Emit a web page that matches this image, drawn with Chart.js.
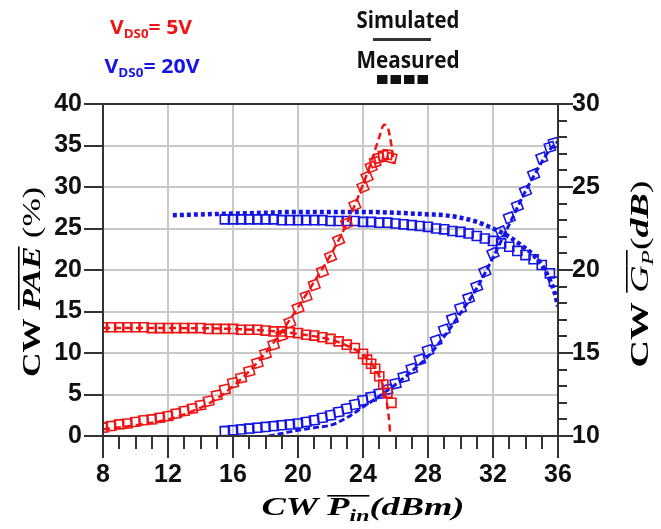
<!DOCTYPE html>
<html>
<head>
<meta charset="utf-8">
<script src="https://cdn.jsdelivr.net/npm/chart.js@4.4.1/dist/chart.umd.min.js"></script>
<style>
  html, body { margin: 0; padding: 0; background: #fff; }
  canvas { display: block; }
</style>
</head>
<body>
<canvas id="chart" width="661" height="529"></canvas>
<script>
// measured points (squares)
var redX = [8, 8.5, 9, 9.5, 10, 10.5, 11, 11.5, 12, 12.5, 13, 13.5, 14, 14.5, 15, 15.5, 16, 16.5, 17, 17.5,
            18, 18.5, 19, 19.5, 20, 20.5, 21, 21.5, 22, 22.5, 23, 23.5, 24, 24.25, 24.5, 24.75, 25, 25.25, 25.5, 25.75];
var redPaeMeas = [1.0, 1.2, 1.4, 1.5, 1.7, 1.9, 2.0, 2.2, 2.4, 2.7, 3.0, 3.3, 3.7, 4.2, 4.9, 5.6, 6.4, 7.0, 7.8, 8.8,
                  9.9, 11.0, 12.1, 13.7, 15.4, 16.8, 18.2, 19.8, 21.6, 23.6, 25.6, 27.8, 30.0, 31.2, 32.4, 33.0, 33.5, 33.8, 33.9, 33.5];
var redGainMeas = [16.55, 16.55, 16.55, 16.55, 16.55, 16.55, 16.5, 16.5, 16.5, 16.5, 16.5, 16.5, 16.5, 16.45, 16.45, 16.45, 16.45, 16.4, 16.4, 16.4,
                   16.35, 16.3, 16.3, 16.25, 16.2, 16.1, 16.05, 15.95, 15.85, 15.7, 15.5, 15.3, 14.95, 14.6, 14.35, 14.05, 13.6, 13.1, 12.6, 12.0];

var blueX = [15.5, 16, 16.5, 17, 17.5, 18, 18.5, 19, 19.5, 20, 20.5, 21, 21.5, 22, 22.5, 23, 23.5, 24, 24.5, 25, 25.5,
             26, 26.5, 27, 27.5, 28, 28.5, 29, 29.5, 30, 30.5, 31, 31.5, 32, 32.5, 33, 33.5, 34, 34.5, 35, 35.5, 35.75];
var bluePaeMeas = [0.6, 0.7, 0.8, 0.9, 1.0, 1.1, 1.2, 1.3, 1.4, 1.5, 1.7, 1.9, 2.2, 2.5, 2.9, 3.3, 3.8, 4.3, 4.7, 5.1, 5.6,
                   6.3, 7.1, 8.1, 9.2, 10.3, 11.5, 12.8, 14.1, 15.4, 16.6, 18.0, 19.8, 22.0, 24.6, 26.3, 27.7, 29.5, 31.5, 33.5, 34.8, 35.3];
var blueGainMeas = [23.05, 23.05, 23.05, 23.05, 23.05, 23.05, 23.05, 23.0, 23.0, 23.0, 23.0, 23.0, 23.0, 22.95, 22.95, 22.95, 22.95, 22.9, 22.9, 22.85, 22.85,
                    22.8, 22.75, 22.7, 22.65, 22.6, 22.5, 22.45, 22.35, 22.3, 22.2, 22.05, 21.9, 21.75, 21.6, 21.4, 21.15, 20.9, 20.65, 20.3, 19.8, 19.3];

// simulated curves (dashed)
var redPaeSimX = [8, 10, 12, 14, 15, 16, 17, 18, 19, 20, 21, 22, 23, 24, 24.5, 25, 25.3, 25.55, 25.75, 25.9];
var redPaeSimY = [0.8, 1.3, 2.0, 3.4, 4.5, 6.0, 7.8, 10.0, 12.6, 15.5, 18.6, 21.8, 25.6, 30.3, 33.0, 36.0, 37.5, 37.0, 35.0, 32.8];
var redGainSimX = [8, 12, 16, 18, 20, 22, 23, 24, 24.5, 25, 25.3, 25.5, 25.62, 25.68];
var redGainSimY = [16.5, 16.5, 16.45, 16.35, 16.15, 15.8, 15.45, 14.9, 14.4, 13.6, 12.8, 11.8, 10.8, 10.0];
var bluePaeSimX = [18.2, 19, 20, 21, 22, 23, 24, 25, 26, 27, 28, 29, 30, 31, 32, 33, 34, 35, 35.5, 36];
var bluePaeSimY = [0, 0.3, 0.7, 1.0, 1.3, 2.2, 3.5, 4.8, 6.2, 7.8, 9.6, 12.0, 14.8, 17.8, 21.5, 25.5, 29.5, 33.0, 34.5, 35.5];
var blueGainSimX = [12.3, 14, 16, 18, 20, 22, 24, 26, 28, 29, 30, 31, 32, 33, 34, 34.5, 35, 35.5, 35.8, 36];
var blueGainSimY = [23.3, 23.35, 23.4, 23.45, 23.5, 23.5, 23.5, 23.45, 23.35, 23.3, 23.15, 22.9, 22.5, 22.0, 21.3, 20.9, 20.3, 19.4, 18.6, 17.8];

var xTicks = [8, 12, 16, 20, 24, 28, 32, 36];

var RED = '#f01414';
var BLUE = '#1414e6';

function pts(xs, ys) {
  return xs.map(function (x, i) { return { x: x, y: ys[i] }; });
}

// squares turn a little along steep parts of the curve
function tilt(ctx) {
  var d = ctx.dataset.data, i = ctx.dataIndex;
  var sx = ctx.chart.scales.x, sy = ctx.chart.scales[ctx.dataset.yAxisID];
  if (!sx || !sy || !d[i]) return 0;
  var a = d[Math.max(i - 1, 0)], b = d[Math.min(i + 1, d.length - 1)];
  var dx = sx.getPixelForValue(b.x) - sx.getPixelForValue(a.x);
  var dy = sy.getPixelForValue(b.y) - sy.getPixelForValue(a.y);
  return Math.atan2(dy, dx) * 180 / Math.PI * 0.35;
}

function simLine(data, color, dash, width, axis) {
  return {
    data: data, yAxisID: axis, showLine: true, pointRadius: 0,
    borderColor: color, borderWidth: width, borderDash: dash, borderCapStyle: 'butt',
    cubicInterpolationMode: 'monotone', fill: false
  };
}

function measPts(data, color, axis, rot) {
  return {
    data: data, yAxisID: axis, showLine: false,
    pointStyle: 'rect', pointRadius: 6.4, pointBorderWidth: 1.6,
    pointBorderColor: color, pointBackgroundColor: 'rgba(0,0,0,0)',
    pointRotation: rot ? tilt : 0
  };
}

// text pieces drawn one after another, optionally stretched and rotated
function drawRuns(ctx, parts, cx, cy, angle, target) {
  ctx.save();
  ctx.translate(cx, cy);
  ctx.rotate(angle);
  var w = 0;
  parts.forEach(function (p) { ctx.font = p.f; p.w = ctx.measureText(p.t).width; w += p.w; });
  var k = target ? target / w : 1;
  ctx.scale(k, 1);
  var x = -w / 2;
  ctx.textBaseline = 'alphabetic';
  ctx.textAlign = 'left';
  parts.forEach(function (p) {
    ctx.font = p.f;
    ctx.fillStyle = p.c || '#000';
    ctx.fillText(p.t, x, p.dy || 0);
    if (p.over) {
      ctx.fillRect(x, -p.over, p.w, 1.6);
    }
    x += p.w;
  });
  ctx.restore();
}

var deco = {
  id: 'deco',
  afterDraw: function (chart) {
    var ctx = chart.ctx, a = chart.chartArea;
    var sx = chart.scales.x, sy = chart.scales.y, sy2 = chart.scales.y2;
    ctx.save();
    ctx.strokeStyle = '#333';
    ctx.lineWidth = 2;
    ctx.strokeRect(a.left, a.top, a.right - a.left, a.bottom - a.top);
    ctx.beginPath();
    for (var v = 8; v <= 36; v++) {
      var px = Math.round(sx.getPixelForValue(v));
      ctx.moveTo(px, a.bottom);
      ctx.lineTo(px, a.bottom + (v % 4 === 0 ? 22 : 13));
    }
    for (var p = 0; p <= 40; p += 5) {
      var py = Math.round(sy.getPixelForValue(p));
      ctx.moveTo(a.left - 19, py);
      ctx.lineTo(a.left, py);
    }
    for (var g = 10; g <= 30; g++) {
      var gy = Math.round(sy2.getPixelForValue(g));
      ctx.moveTo(a.right, gy);
      ctx.lineTo(a.right + (g % 5 === 0 ? 15 : 9), gy);
    }
    ctx.stroke();

    // axis titles
    var serif = '"Liberation Serif"';
    drawRuns(ctx, [
      { t: 'CW ', f: 'bold 26px ' + serif },
      { t: 'PAE', f: 'italic bold 26px ' + serif, over: 22 },
      { t: ' (%)', f: '26px ' + serif }
    ], 40, 282, -Math.PI / 2, 190);
    drawRuns(ctx, [
      { t: 'CW ', f: 'bold 26px ' + serif },
      { t: 'G', f: 'italic 26px ' + serif, over: 22 },
      { t: 'P', f: 'italic 17px ' + serif, dy: 5, over: 22 },
      { t: '(', f: '26px ' + serif },
      { t: 'dB', f: 'italic bold 26px ' + serif },
      { t: ')', f: '26px ' + serif }
    ], 648, 274, -Math.PI / 2, 187);
    drawRuns(ctx, [
      { t: 'CW ', f: 'italic bold 26px ' + serif },
      { t: 'P', f: 'italic bold 26px ' + serif, over: 20 },
      { t: 'in', f: 'italic bold 17px ' + serif, dy: 6, over: 20 },
      { t: '(dBm)', f: 'italic bold 26px ' + serif }
    ], 363, 515, 0, 203);

    // legend
    var sans = '"Open Sans"';
    drawRuns(ctx, [
      { t: 'V', f: 'bold 19px ' + sans, c: RED },
      { t: 'DS0', f: 'bold 12px ' + sans, dy: 4, c: RED },
      { t: '= 5V', f: 'bold 19px ' + sans, c: RED }
    ], 151, 34, 0, 82);
    drawRuns(ctx, [
      { t: 'V', f: 'bold 19px ' + sans, c: BLUE },
      { t: 'DS0', f: 'bold 12px ' + sans, dy: 4, c: BLUE },
      { t: '= 20V', f: 'bold 19px ' + sans, c: BLUE }
    ], 152, 73, 0, 95);
    drawRuns(ctx, [{ t: 'Simulated', f: 'bold 24px ' + sans, c: '#111' }], 408, 28, 0, 103);
    drawRuns(ctx, [{ t: 'Measured', f: 'bold 24px ' + sans, c: '#111' }], 408, 68, 0, 103);
    ctx.fillStyle = '#333';
    ctx.fillRect(373, 38, 58, 3);
    ctx.fillStyle = '#111';
    for (var s = 0; s < 4; s++) ctx.fillRect(377 + s * 13.5, 75, 10.5, 9);
    ctx.restore();
  }
};

var tickFont = { family: '"Liberation Sans"', size: 25, weight: 'bold' };

new Chart(document.getElementById('chart'), {
  type: 'scatter',
  data: {
    datasets: [
      simLine(pts(redPaeSimX, redPaeSimY), RED, [7, 4], 2.5, 'y'),
      simLine(pts(redGainSimX, redGainSimY), RED, [7, 4], 2.5, 'y2'),
      simLine(pts(bluePaeSimX, bluePaeSimY), BLUE, [6, 3], 3, 'y'),
      simLine(pts(blueGainSimX, blueGainSimY), BLUE, [4, 3], 4.5, 'y2'),
      measPts(pts(redX, redPaeMeas), RED, 'y', true),
      measPts(pts(redX, redGainMeas), RED, 'y2', false),
      measPts(pts(blueX, bluePaeMeas), BLUE, 'y', true),
      measPts(pts(blueX, blueGainMeas), BLUE, 'y2', false)
    ]
  },
  options: {
    responsive: false,
    devicePixelRatio: 1,
    animation: false,
    layout: { padding: { top: 104, left: 0, right: 0, bottom: 0 } },
    plugins: { legend: { display: false }, tooltip: { enabled: false } },
    scales: {
      x: {
        type: 'linear', min: 8, max: 36,
        afterBuildTicks: function (s) { s.ticks = xTicks.map(function (v) { return { value: v }; }); },
        ticks: { font: tickFont, color: '#111', padding: 24 },
        grid: {
          drawTicks: false, lineWidth: 2,
          color: function (c) { return (c.tick && (c.tick.value === 8 || c.tick.value === 36)) ? 'rgba(0,0,0,0)' : '#c8c8c8'; }
        },
        border: { display: false },
        afterFit: function (s) { s.height = 93; }
      },
      y: {
        position: 'left', min: 0, max: 40,
        ticks: { stepSize: 5, font: tickFont, color: '#111', padding: 21 },
        grid: {
          drawTicks: false, lineWidth: 2,
          color: function (c) { return (c.tick && (c.tick.value === 0 || c.tick.value === 40)) ? 'rgba(0,0,0,0)' : '#c8c8c8'; }
        },
        border: { display: false },
        afterFit: function (s) { s.width = 103; }
      },
      y2: {
        position: 'right', min: 10, max: 30,
        ticks: { stepSize: 5, font: tickFont, color: '#111', padding: 14 },
        grid: { display: false, drawTicks: false },
        border: { display: false },
        afterFit: function (s) { s.width = 103; }
      }
    }
  },
  plugins: [deco]
});
</script>
</body>
</html>
